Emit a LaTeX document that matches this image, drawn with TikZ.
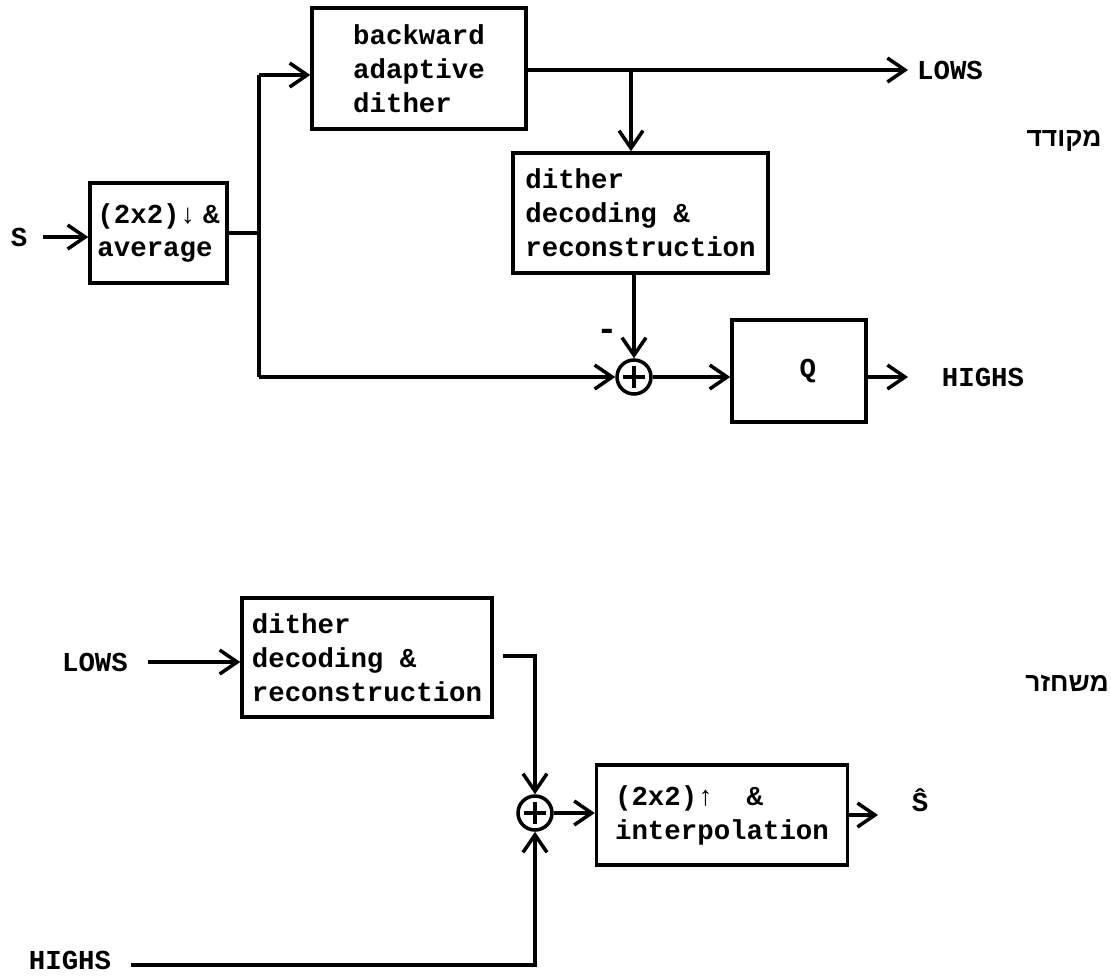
\documentclass[tikz,border=0pt]{standalone}
\usepackage{fontspec}
\setmonofont{Liberation Mono}
\newfontfamily\hebfont[Script=Hebrew]{Liberation Sans}
\TeXXeTstate=1
\usetikzlibrary{arrows.meta,calc}

\begin{document}
\begin{tikzpicture}[x=0.02cm, y=-0.02cm, line join=miter,
    blk/.style={rectangle, draw, line width=2pt, align=left, inner sep=2pt, font=\ttfamily\bfseries\fontsize{15.6}{19.3}\selectfont},
    lbl/.style={inner sep=1pt, font=\ttfamily\bfseries\fontsize{15.6}{19.3}\selectfont},
    sum/.style={circle, draw, line width=2pt, minimum size=0.68cm, inner sep=0pt,
      path picture={\draw[line width=2pt] ($(path picture bounding box.center)+(-11,0)$) -- +(22,0)
        ($(path picture bounding box.center)+(0,-11)$) -- +(0,22);}},
    arr/.style={-{Straight Barb[length=3.5mm,width=4.8mm]}, line width=2pt},
    ln/.style={line width=2pt},
    heb/.style={inner sep=1pt, font=\hebfont\bfseries\fontsize{15}{18}\selectfont}
  ]
  \useasboundingbox (0,0) rectangle (1111,978);

  % Encoder
  \node[lbl] (s) at (19,237) {S};
  \node[blk, minimum width=2.74cm, minimum height=2.0cm] (avg) at (158.5,233) {(2x2)↓\hspace{4pt}\&\\average};
  \node[blk, minimum width=4.28cm, minimum height=2.42cm] (bad) at (419,68.5) {backward\\adaptive\\dither};
  \node[blk, minimum width=5.1cm, minimum height=2.4cm] (ddr) at (640.5,213) {dither\\decoding \&\\reconstruction};
  \node[sum] (sum) at (634,377) {};
  \node[blk, minimum width=2.68cm, minimum height=2.04cm, align=center] (q) at (799,371) {\hspace*{10pt}Q};
  \node[lbl] (lows) at (950,70) {LOWS};
  \node[lbl] (highs) at (983,377) {HIGHS};
  \node[lbl, font=\ttfamily\bfseries\fontsize{20}{20}\selectfont] (minus) at (607,335) {-};
  \node[heb] (enc) at (1064,141) {\beginR מקודד\endR};

  \coordinate (split) at (259,233);
  \coordinate (up) at (259,75);
  \coordinate (dn) at (259,377);
  \coordinate (tap) at (631,70);
  \coordinate (lout) at (908,70);
  \coordinate (hout) at (908,377);

  \draw[arr, shorten <=8pt] (s) -- (s -| avg.west);
  \draw[ln] (avg.east |- split) -- (split);
  \draw[ln] (up) -- (dn);
  \draw[arr] (up) -- (up -| bad.west);
  \draw[arr] (dn) -- (sum.west);
  \draw[arr] (bad.east |- tap) -- (lout);
  \draw[arr] (tap) -- (tap |- ddr.north);
  \draw[arr] (ddr.south -| sum) -- (sum.north);
  \draw[arr] (sum.east) -- (sum -| q.west);
  \draw[arr] (q.east |- hout) -- (hout);

  % Decoder
  \node[lbl] (lows2) at (95,662) {LOWS};
  \node[blk, minimum width=5.0cm, minimum height=2.38cm] (ddr2) at (367,657.5) {dither\\decoding \&\\reconstruction};
  \node[sum] (sum2) at (535,813) {};
  \node[blk, minimum width=5.02cm, minimum height=2.0cm] (interp) at (722,815) {(2x2)↑ \ \&\\interpolation};
  \node[lbl] (shat) at (920,800) {\^{S}};
  \node[lbl] (highs2) at (70,960) {HIGHS};
  \node[heb] (dec) at (1067,683) {\beginR משחזר\endR};

  \coordinate (turn) at (535,656);
  \coordinate (hturn) at (535,965);
  \coordinate (sout) at (878,815);

  \draw[arr, shorten <=10pt] (lows2.east) -- (lows2 -| ddr2.west);
  \draw[arr, shorten <=5pt] (ddr2.east |- turn) -- (turn) -- (sum2.north);
  \draw[arr] (sum2.east) -- (sum2 -| interp.west);
  \draw[arr] (interp.east) -- (sout);
  \draw[arr, shorten <=10pt] (highs2.east |- hturn) -- (hturn) -- (sum2.south);
\end{tikzpicture}
\end{document}
